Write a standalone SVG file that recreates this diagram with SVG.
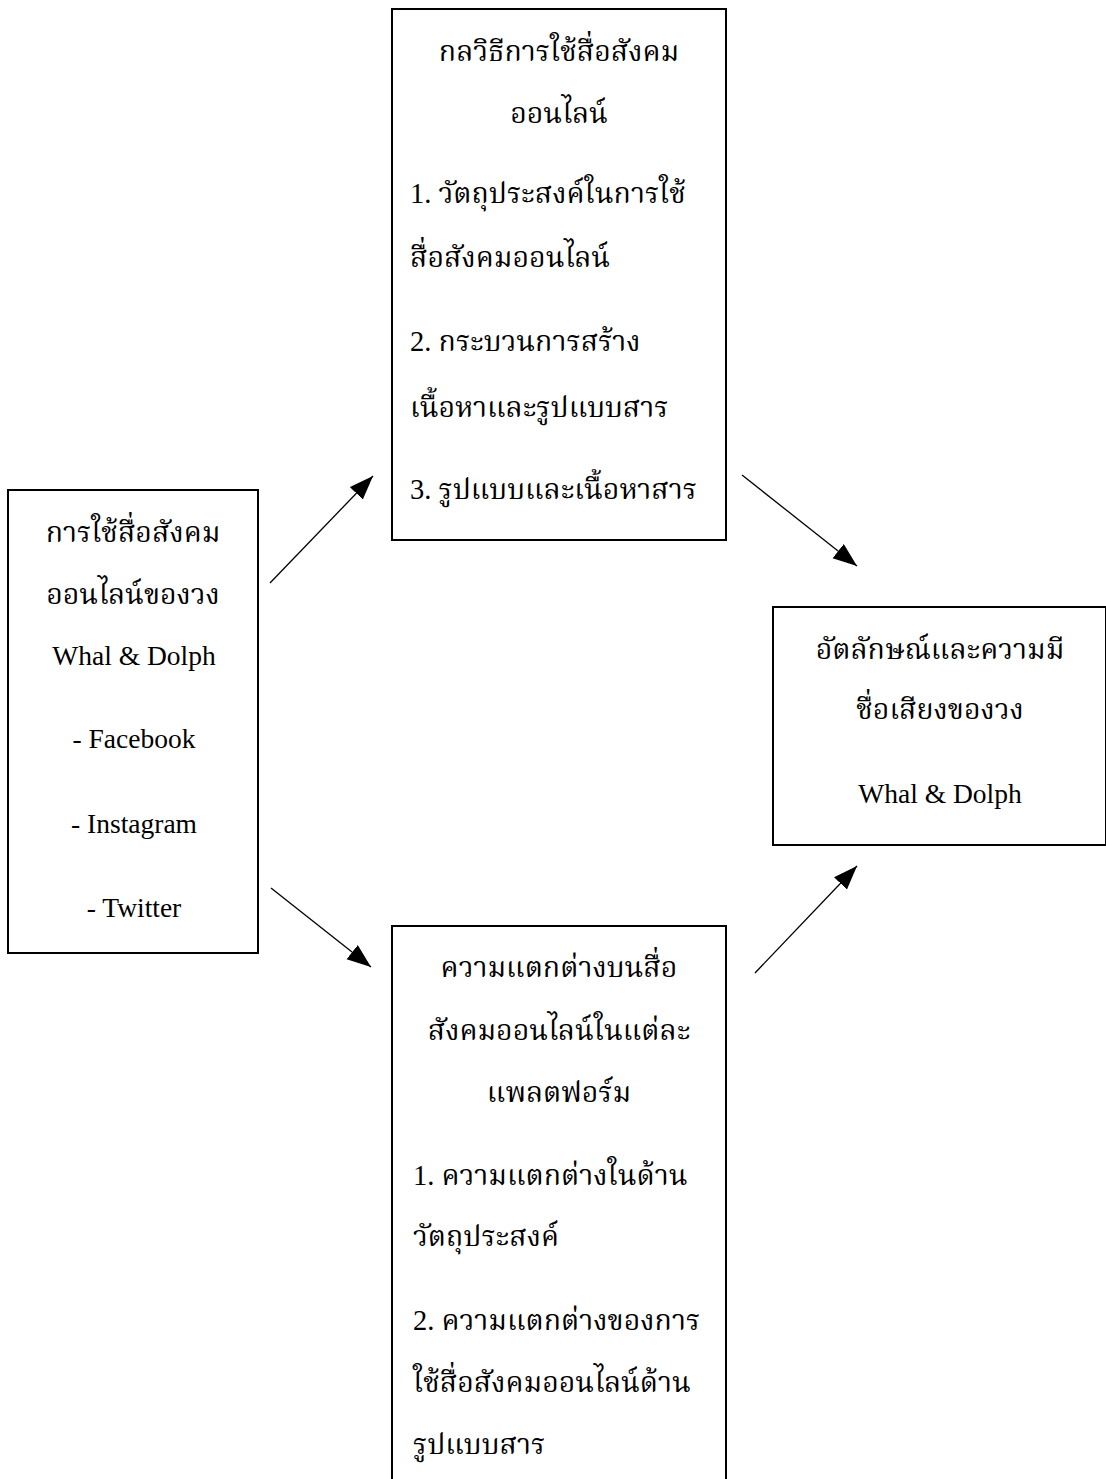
<svg xmlns="http://www.w3.org/2000/svg" width="1106" height="1479" viewBox="0 0 1106 1479">
<style>
.box{fill:#fff;stroke:#000;stroke-width:2}
.t{font-family:"Liberation Serif","Noto Serif Thai","Noto Sans Thai",serif;font-size:28.5px;fill:#000}
.l{font-family:"Liberation Serif",serif;font-size:27.5px;fill:#000}
.c{text-anchor:middle}
.conn{stroke:#000;stroke-width:1.3;fill:none;marker-end:url(#ah)}
</style>
<defs>
<marker id="ah" markerUnits="userSpaceOnUse" markerWidth="26" markerHeight="20" refX="24" refY="9" orient="auto">
<path d="M0,0 L24,9 L0,18 z" fill="#000"/>
</marker>
</defs>
<rect width="1106" height="1479" fill="#fff"/>
<g id="node-strategy">
<rect class="box" x="392" y="9" width="334" height="531"/>
<text class="t c" x="559" y="61">กลวิธีการใช้สื่อสังคม</text>
<text class="t c" x="559" y="123">ออนไลน์</text>
<text class="t" x="410" y="203">1. วัตถุประสงค์ในการใช้</text>
<text class="t" x="410" y="267">สื่อสังคมออนไลน์</text>
<text class="t" x="410" y="351">2. กระบวนการสร้าง</text>
<text class="t" x="410" y="417">เนื้อหาและรูปแบบสาร</text>
<text class="t" x="410" y="499">3. รูปแบบและเนื้อหาสาร</text>
</g>
<g id="node-usage">
<rect class="box" x="8" y="490" width="250" height="463"/>
<text class="t c" x="133" y="542">การใช้สื่อสังคม</text>
<text class="t c" x="133" y="604">ออนไลน์ของวง</text>
<text class="l c" x="134" y="665">Whal &amp; Dolph</text>
<text class="l c" x="134" y="748">- Facebook</text>
<text class="l c" x="134" y="833">- Instagram</text>
<text class="l c" x="134" y="917">- Twitter</text>
</g>
<g id="node-identity">
<rect class="box" x="773" y="607" width="333" height="238"/>
<text class="t c" x="940" y="659">อัตลักษณ์และความมี</text>
<text class="t c" x="940" y="719">ชื่อเสียงของวง</text>
<text class="l c" x="940" y="803">Whal &amp; Dolph</text>
</g>
<g id="node-difference">
<rect class="box" x="392" y="926" width="334" height="572"/>
<text class="t c" x="559" y="977">ความแตกต่างบนสื่อ</text>
<text class="t c" x="559" y="1040">สังคมออนไลน์ในแต่ละ</text>
<text class="t c" x="559" y="1102">แพลตฟอร์ม</text>
<text class="t" x="413" y="1185">1. ความแตกต่างในด้าน</text>
<text class="t" x="413" y="1246">วัตถุประสงค์</text>
<text class="t" x="413" y="1330">2. ความแตกต่างของการ</text>
<text class="t" x="413" y="1392">ใช้สื่อสังคมออนไลน์ด้าน</text>
<text class="t" x="413" y="1454">รูปแบบสาร</text>
</g>
<g id="connectors">
<line class="conn" x1="270" y1="583" x2="373" y2="476"/>
<line class="conn" x1="742" y1="475" x2="857" y2="566"/>
<line class="conn" x1="271" y1="888" x2="371" y2="967"/>
<line class="conn" x1="755" y1="973" x2="857" y2="866"/>
</g>
</svg>
